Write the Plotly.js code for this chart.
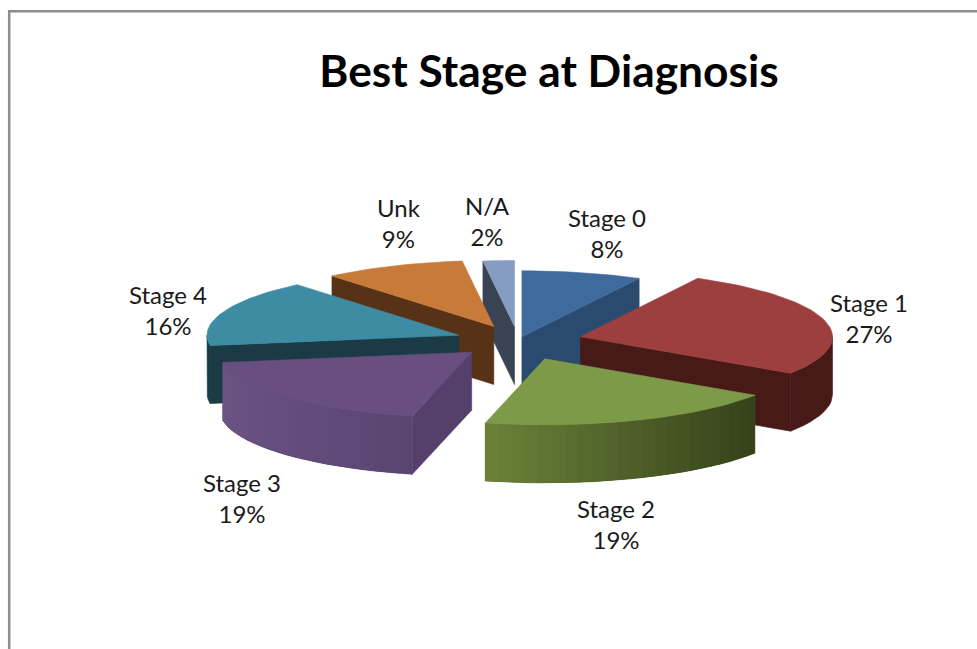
<!DOCTYPE html>
<html><head><meta charset="utf-8">
<script src="https://cdn.plot.ly/plotly-3.0.1.min.js"></script>
<style>html,body{margin:0;padding:0;background:#fff;overflow:hidden}#c{width:977px;height:649px}</style>
</head><body><div id="c"></div>
<script>
const categories = ["Stage 0","Stage 1","Stage 2","Stage 3","Stage 4","Unk","N/A"];
const percents   = [7.7,26.6,19.49,18.71,16.4,9.1,2.0];
const explode    = [0.065,0.256,0.29,0.25,0.25,0.24,0.22];

// Styling
const topColors  = ["#3f6b9c","#9c3f3e","#7d9a48","#694f80","#3e8ba4","#c87b38","#869dc1"];
const wallColors = ["#2b4a70","#471a18","#000000","#54406a","#1a3a46","#573217","#3a4354"];
const arcLeft    = ["#2b4a70","#471a18","#6b8239","#6a5283","#1a3a46","#573217","#3a4354"];
const arcRight   = ["#2b4a70","#471a18","#35421a","#59446f","#1a3a46","#573217","#3a4354"];
const paintOrder = [6,5,0,4,1,3,2];
const labelX = [607,869,616,242,168,399,487];
const labelY = [233,318,524,498,310,223,221];
const CX=518, CY=341, RX=252, RY=66, DEPTH=58;

const rad = d => d*Math.PI/180;
const total = percents.reduce((a,b)=>a+b,0);
const starts = []; let run = 0;
percents.forEach(v => { starts.push(run/total*360); run += v; });

function hex(c){return [1,3,5].map(i=>parseInt(c.substr(i,2),16));}
function mix(a,b,t){const A=hex(a),B=hex(b);return 'rgb('+A.map((v,i)=>Math.round(v+(B[i]-v)*t)).join(',')+')';}
function poly(xs,ys,color,lw){
  return {type:'scatter',mode:'lines',x:xs.concat(xs[0]),y:ys.concat(ys[0]),fill:'toself',
    fillcolor:color,line:{color:color,width:lw},hoverinfo:'skip',showlegend:false};
}
const traces=[];
paintOrder.forEach(i=>{
  const a0=starts[i], a1=a0+percents[i]/total*360, mid=(a0+a1)/2;
  const ax=CX+explode[i]*RX*Math.sin(rad(mid)), ay=CY-explode[i]*RY*Math.cos(rad(mid));
  const px=a=>ax+RX*Math.sin(rad(a)), py=a=>ay-RY*Math.cos(rad(a));
  // radial walls facing the viewer
  if(Math.sin(rad(a1))>0.01) traces.push(poly([ax,px(a1),px(a1),ax],[ay,py(a1),py(a1)+DEPTH,ay+DEPTH],wallColors[i],0.6));
  if(Math.sin(rad(a0))<-0.01) traces.push(poly([ax,px(a0),px(a0),ax],[ay,py(a0),py(a0)+DEPTH,ay+DEPTH],wallColors[i],0.6));
  // outer rim: a solid base, then overlapping shaded bands so no seams show
  const f0=Math.max(a0,90), f1=Math.min(a1,270);
  if(f1>f0){
    const n=Math.max(2,Math.round((f1-f0)/3));
    const at=k=>f0+(f1-f0)*Math.min(k,n)/n;
    const bx=[],by=[],tx=[],ty=[];
    let xmin=Infinity,xmax=-Infinity;
    for(let k=0;k<=n;k++){
      const x=px(at(k));xmin=Math.min(xmin,x);xmax=Math.max(xmax,x);
      tx.push(x);ty.push(py(at(k)));bx.unshift(x);by.unshift(py(at(k))+DEPTH);
    }
    traces.push(poly(tx.concat(bx),ty.concat(by),mix(arcLeft[i],arcRight[i],0.5),0.6));
    if(arcLeft[i]!==arcRight[i]){
      for(let k=0;k<n;k++){
        const t=((px(at(k))+px(at(k+1)))/2-xmin)/(xmax-xmin);
        const a=at(k),b=at(k+1),c=at(k+2);
        traces.push(poly([px(a),px(b),px(c),px(c),px(b),px(a)],
                         [py(a),py(b),py(c),py(c)+DEPTH,py(b)+DEPTH,py(a)+DEPTH],mix(arcLeft[i],arcRight[i],t),0));
      }
    }
  }
  // top face
  const xs=[ax],ys=[ay],m=Math.ceil((a1-a0)/2);
  for(let k=0;k<=m;k++){const a=a0+(a1-a0)*k/m;xs.push(px(a));ys.push(py(a));}
  traces.push(poly(xs,ys,topColors[i],0.6));
});

const annotations=categories.map((c,i)=>({
  xref:'x',yref:'y',x:labelX[i],y:labelY[i],text:c+'<br>'+Math.round(percents[i])+'%',showarrow:false,
  xanchor:'center',yanchor:'middle',align:'center',font:{family:'Lato, Carlito, sans-serif',size:24,color:'#1a1a1a'}
}));
const frame={color:'#8c8c8c',width:2.5};
const layout={
  width:977,height:649,margin:{l:0,r:0,t:0,b:0},paper_bgcolor:'#fff',plot_bgcolor:'#fff',showlegend:false,
  title:{text:'<b>Best Stage at Diagnosis</b>',x:549/977,xanchor:'center',xref:'paper',y:1-71/649,yanchor:'middle',yref:'paper',
    font:{family:'Lato, Carlito, sans-serif',size:44.3,color:'#000'}},
  xaxis:{range:[0,977],visible:false,fixedrange:true},
  yaxis:{range:[649,0],visible:false,fixedrange:true},
  shapes:[
    {type:'line',xref:'x',yref:'y',x0:9.2,x1:9.2,y0:11,y1:649,line:frame},
    {type:'line',xref:'x',yref:'y',x0:8,x1:977,y0:11.2,y1:11.2,line:frame}
  ],
  annotations
};
Plotly.newPlot('c',traces,layout,{displayModeBar:false,staticPlot:true});
</script></body></html>
